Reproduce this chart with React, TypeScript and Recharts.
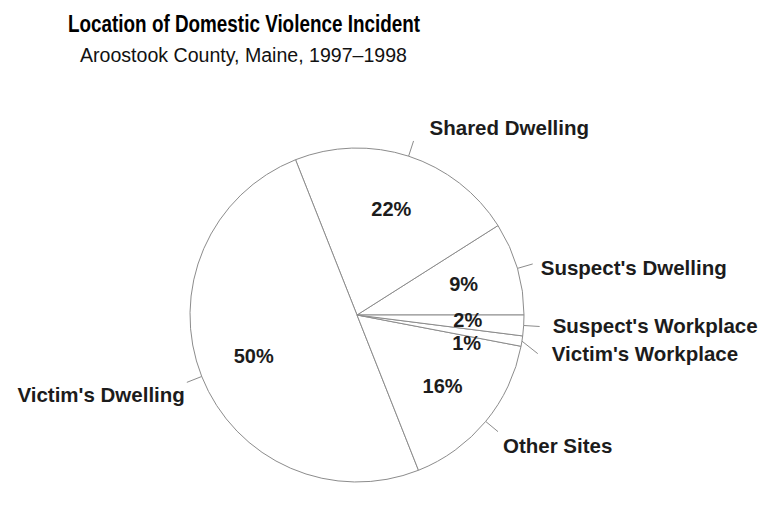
import React from 'react';
import { PieChart, Pie, Cell } from 'recharts';

// Location categories, counter-clockwise from 3 o'clock
const locations = [
    "Suspect's Dwelling",
    'Shared Dwelling',
    "Victim's Dwelling",
    'Other Sites',
    "Victim's Workplace",
    "Suspect's Workplace",
];
const shares = [9, 22, 50, 16, 1, 2];

const TITLE = 'Location of Domestic Violence Incident';
const SUBTITLE = 'Aroostook County, Maine, 1997\u20131998';

const pieData = locations.map((name, i) => ({ name, value: shares[i] }));

const CX = 357;
const CY = 315;
const R = 167;
const RAD = Math.PI / 180;
const LINE = '#8c8c8c';
const INK = '#1c1c1c';
const FONT = "'Liberation Sans', Arial, Helvetica, sans-serif";

// hand-tuned label placement (text offset from the end of the leader tick)
const nameNudge: Record<string, { dx: number; dy: number; bendY?: number }> = {
    "Suspect's Dwelling": { dx: 8, dy: 11 },
    'Shared Dwelling': { dx: 16, dy: -6 },
    "Victim's Dwelling": { dx: -2, dy: 20 },
    'Other Sites': { dx: 5, dy: 21 },
    "Victim's Workplace": { dx: 14, dy: 17, bendY: 10 },
    "Suspect's Workplace": { dx: 13, dy: 7 },
};
const pctNudge: Record<string, number> = { "Victim's Workplace": 11, "Suspect's Workplace": -2 };

const renderLabel = (props: any) => {
    const { midAngle, name, value } = props;
    const cx = props.cx ?? CX;
    const cy = props.cy ?? CY;
    const r = props.outerRadius ?? R;
    const cos = Math.cos(-midAngle * RAD);
    const sin = Math.sin(-midAngle * RAD);
    const sx = cx + r * cos;
    const sy = cy + r * sin;
    const nudge = nameNudge[name] || { dx: 0, dy: 0 };
    let ex = cx + (r + 16) * cos;
    let ey = cy + (r + 16) * sin;
    if (nudge.bendY) ey += nudge.bendY;
    const right = cos >= 0;
    const px = cx + r * 0.665 * cos;
    const py = cy + r * 0.665 * sin + (pctNudge[name] || 0);
    return (
        <g>
            <path d={`M${sx},${sy}L${ex},${ey}`} stroke={LINE} strokeWidth={1} fill="none" />
            <text
                x={ex + nudge.dx}
                y={ey + nudge.dy - (nudge.bendY || 0)}
                textAnchor={right ? 'start' : 'end'}
                fontFamily={FONT}
                fontWeight="bold"
                fontSize={20.5}
                fill={INK}
            >
                {name}
            </text>
            <text
                x={px}
                y={py}
                textAnchor="middle"
                dominantBaseline="central"
                fontFamily={FONT}
                fontWeight="bold"
                fontSize={20}
                fill={INK}
            >
                {value}%
            </text>
        </g>
    );
};

export default function App() {
    return (
        <div style={{ position: 'absolute', left: 0, top: 0, width: 766, height: 515, background: '#fff' }}>
            <PieChart width={766} height={515} margin={{ top: 0, right: 0, bottom: 0, left: 0 }}>
                <Pie
                    data={pieData}
                    dataKey="value"
                    nameKey="name"
                    cx={CX}
                    cy={CY}
                    outerRadius={R}
                    startAngle={0}
                    endAngle={360}
                    stroke={LINE}
                    strokeWidth={1}
                    label={renderLabel}
                    labelLine={false}
                    isAnimationActive={false}
                >
                    {pieData.map((d) => (
                        <Cell key={d.name} fill="#ffffff" />
                    ))}
                </Pie>
            </PieChart>
            <svg width={766} height={80} style={{ position: 'absolute', left: 0, top: 0, pointerEvents: 'none' }}>
                <text
                    x={68}
                    y={32}
                    textLength={352}
                    lengthAdjust="spacingAndGlyphs"
                    fontFamily="'Liberation Sans Narrow', 'Liberation Sans', Arial, sans-serif"
                    fontWeight="bold"
                    fontSize={23}
                    fill="#000"
                >
                    {TITLE}
                </text>
                <text
                    x={80}
                    y={62}
                    textLength={327}
                    lengthAdjust="spacingAndGlyphs"
                    fontFamily="'Liberation Sans Narrow', 'Liberation Sans', Arial, sans-serif"
                    fontSize={20}
                    fill="#111"
                >
                    {SUBTITLE}
                </text>
            </svg>
        </div>
    );
}
